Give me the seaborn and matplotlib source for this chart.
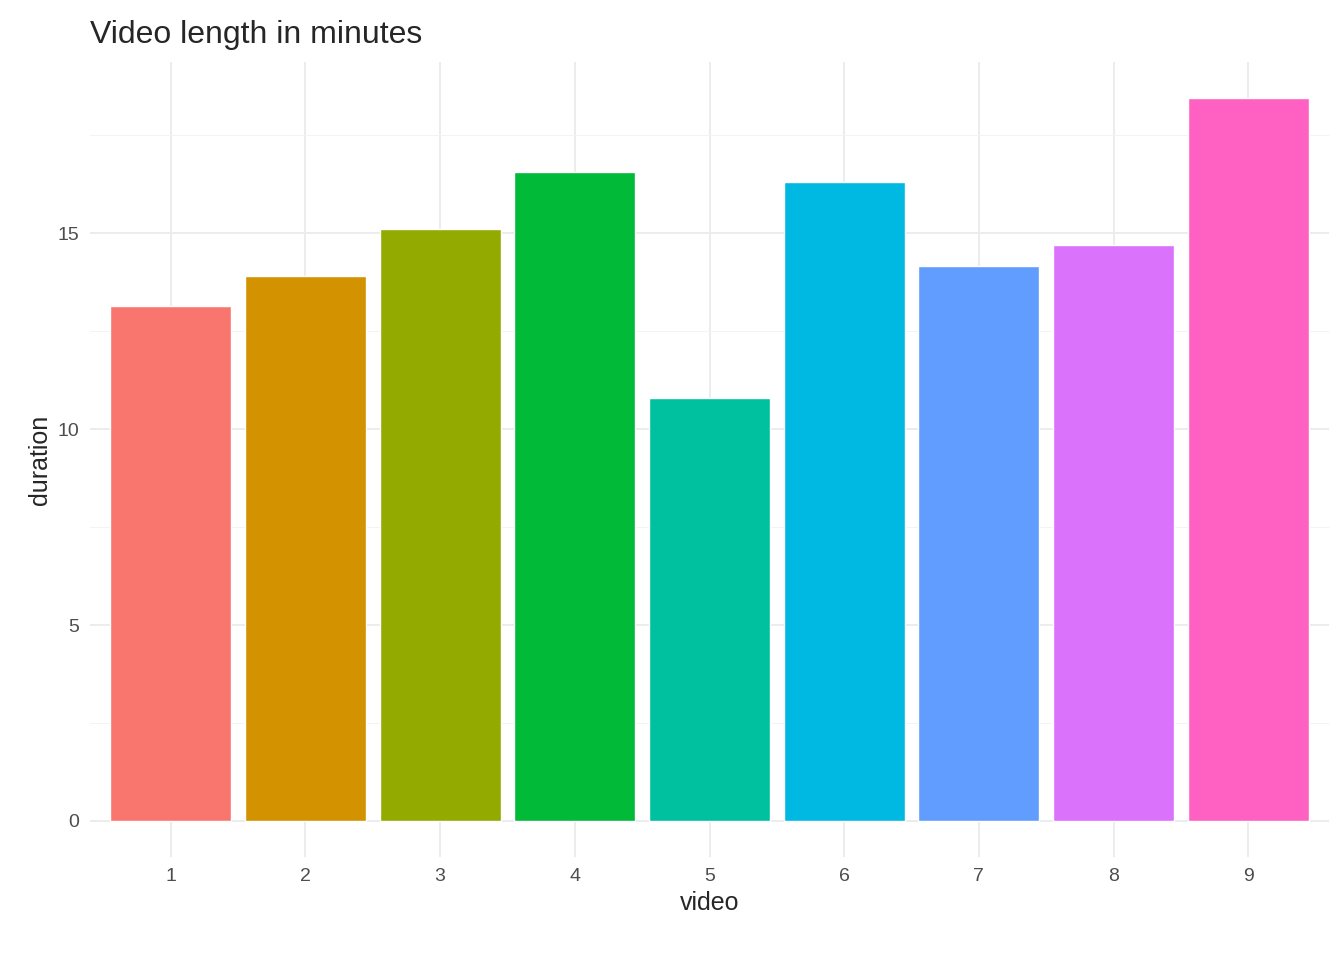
import matplotlib
matplotlib.use("Agg")
import matplotlib.pyplot as plt
import seaborn as sns
import pandas as pd

videos = ["1", "2", "3", "4", "5", "6", "7", "8", "9"]
durations = [13.15, 13.9, 15.12, 16.55, 10.8, 16.32, 14.17, 14.7, 18.45]
colors = ["#F8766D", "#D39200", "#93AA00", "#00BA38", "#00C19F",
          "#00B9E3", "#619CFF", "#DB72FB", "#FF61C3"]

df = pd.DataFrame({"video": videos, "duration": durations})

sns.set_style("whitegrid")
plt.rcParams['font.family'] = ['Liberation Sans', 'DejaVu Sans']

fig = plt.figure(figsize=(13.44, 9.6), dpi=100)
ax = fig.add_axes([90 / 1344, 1 - 857 / 960, (1329 - 90) / 1344, (857 - 62) / 960])

sns.barplot(data=df, x="video", y="duration", hue="video", palette=colors,
            width=0.9, legend=False, saturation=1, ax=ax)

ax.set_xlim(-0.6, 8.6)
ax.set_ylim(-0.92, 19.37)
ax.set_yticks([0, 5, 10, 15])
ax.set_yticks([2.5, 7.5, 12.5, 17.5], minor=True)
ax.grid(True, which="major", color="#EBEBEB", linewidth=1.3)
ax.grid(True, which="minor", axis="y", color="#F3F3F3", linewidth=0.7)
ax.set_axisbelow(True)
for s in ax.spines.values():
    s.set_visible(False)
ax.tick_params(axis="both", which="both", length=0, labelsize=14, labelcolor="#4D4D4D", pad=8)
ax.set_xlabel("video", fontsize=18)
ax.set_ylabel("duration", fontsize=18)
ax.set_title("Video length in minutes", fontsize=23, loc="left", x=-0.0, pad=14)

fig.savefig("out.png", dpi=100)
